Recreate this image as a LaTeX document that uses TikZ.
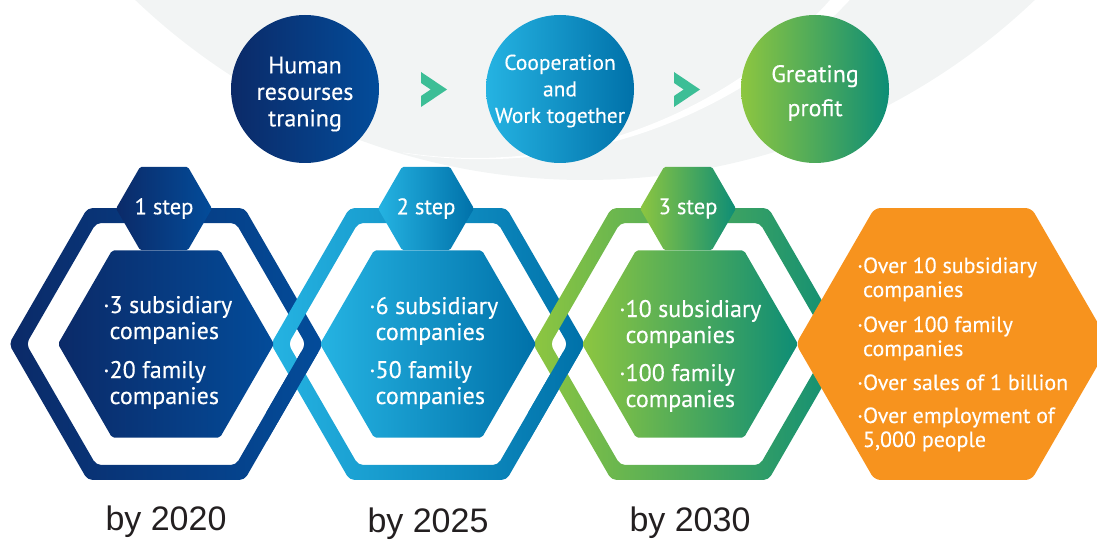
\documentclass[tikz,border=0pt]{standalone}
\usepackage{fontspec}
\setmainfont{PT Sans}[FakeBold=0.3]
\newfontfamily\yearfont{Liberation Sans}
\usetikzlibrary{shapes.geometric}
\definecolor{navyL}{HTML}{0B2A68}
\definecolor{navyR}{HTML}{034C9A}
\definecolor{skyL}{HTML}{25B3E2}
\definecolor{skyR}{HTML}{0071A9}
\definecolor{leafL}{HTML}{8DC640}
\definecolor{leafR}{HTML}{0D8D76}
\definecolor{mango}{HTML}{F7931E}
\definecolor{mint}{HTML}{3CBE96}
\definecolor{mist}{HTML}{F2F4F4}
\definecolor{ink}{HTML}{231F20}
% flat-topped hexagon with circumradius #1 around the origin
\newcommand{\hexloop}[1]{(30:{0.866*#1}) \foreach \k in {1,...,6} {-- (\k*60:#1)} -- cycle}

\begin{document}
\begin{tikzpicture}[x=1pt,y=-1pt,
    hexfill/.style={regular polygon, regular polygon sides=6, inner sep=0pt},
    bodytext/.style={text=white, inner sep=0pt, font=\fontsize{24}{26}\selectfont},
    goaltext/.style={text=white, inner sep=0pt, font=\fontsize{22}{24}\selectfont},
    bubble/.style={circle, minimum size=148pt, inner sep=0pt},
    bubbletext/.style={text=white, align=center, inner sep=0pt}]

		\clip (0,0) rectangle (1097,540);

		% Grey disc with the white swoosh
		\fill[mist] (585,-472) circle (652);
		\fill[white] plot[domain=98.65:38, samples=60, variable=\t] ({475+478*cos(\t)},{-320+478*sin(\t)})
		  -- plot[domain=40:99, samples=60, variable=\t] ({482+504.2*cos(\t)},{-345+504.2*sin(\t)}) -- cycle;

		% The three circles and the chevrons between them
		\node[bubble, left color=navyL, right color=navyR] (hr) at (305,89) {};
		\node[bubble, left color=skyL, right color=skyR] (coop) at (560,89) {};
		\node[bubble, left color=leafL, right color=leafR] (profit) at (815,89) {};
		\node[bubbletext, font=\fontsize{24}{26.5}\selectfont] (hrtext) at ([yshift=-5pt]hr.center) {Human\\resourses\\traning};
		\node[bubbletext, font=\fontsize{21.5}{26.5}\selectfont] (cooptext) at ([yshift=-2pt]coop.center) {Cooperation\\and\\Work together};
		\node[bubbletext, font=\fontsize{24}{34}\selectfont] (profittext) at ([yshift=-4pt]profit.center) {Greating\\profit};
		\foreach \mx in {434,687} {
		  \fill[mint, shift={(\mx,89.5)}] (-13,-17.5) -- (13,0) -- (-13,17.5) -- (-13,6.5) -- (-3.3,0) -- (-13,-6.5) -- cycle;
		}

		% Hexagonal rings
		\foreach \cx/\lc/\rc in {166/navyL/navyR, 428/skyL/skyR, 690/leafL/leafR} {
		  \shade[shift={(\cx,344)}, even odd rule, left color=\lc, right color=\rc, rounded corners=5pt] \hexloop{157} \hexloop{139.7};
		}

		% Lower crossings: the left ring passes over
		\foreach \cx/\lc/\rc in {166/navyL/navyR, 428/skyL/skyR} {
		  \begin{scope}
		    \clip (\cx+100,352) rectangle (\cx+170,440);
		    \shade[shift={(\cx,344)}, even odd rule, left color=\lc, right color=\rc, rounded corners=5pt] \hexloop{157} \hexloop{139.7};
		  \end{scope}
		}

		% Inner hexagons, step badges and years
		\foreach \cx/\lc/\rc/\n/\yb/\yr in {166/navyL/navyR/1/530/2020, 428/skyL/skyR/2/532/2025, 690/leafL/leafR/3/531/2030} {
		  \node[hexfill, minimum size=216pt, left color=\lc, right color=\rc, rounded corners=2pt] (core\n) at (\cx,344) {};
		  \node[hexfill, minimum size=82pt, left color=\lc, right color=\rc, rounded corners=1.5pt,
		        text=white, font=\fontsize{22.5}{24}\selectfont] (step\n) at (\cx-2,208.5) {\n\ step};
		  \node[font=\yearfont\fontsize{34}{40}\selectfont, text=ink, anchor=base, inner sep=0pt] (year\n) at (\cx,\yb) {by \yr};
		}

		% Final goal
		\node[hexfill, minimum size=314pt, fill=mango, rounded corners=6pt] (goal) at (953,344) {};

		% Texts in the hexagons
		\node[bodytext, anchor=base west] (list1) at (103,313) {\begin{tabular}[t]{@{}l@{}l@{}}
		  ·&3 subsidiary\\ &companies\\[13pt] ·&20 family\\ &companies\end{tabular}};
		\node[bodytext, anchor=base west] (list2) at (369,314) {\begin{tabular}[t]{@{}l@{}l@{}}
		  ·&6 subsidiary\\ &companies\\[12pt] ·&50 family\\ &companies\end{tabular}};
		\node[bodytext, anchor=base west] (list3) at (619,317) {\begin{tabular}[t]{@{}l@{}l@{}}
		  ·&10 subsidiary\\ &companies\\[12pt] ·&100 family\\ &companies\end{tabular}};
		\node[goaltext, anchor=base west] (list4) at (857,273) {\begin{tabular}[t]{@{}l@{}l@{}}
		  ·&Over 10 subsidiary\\ &companies\\[11pt] ·&Over 100 family\\ &companies\\[10pt]
		  ·&Over sales of 1 billion\\[9pt] ·&Over employment of\\ &5,000 people\end{tabular}};
	\end{tikzpicture}
\end{document}
